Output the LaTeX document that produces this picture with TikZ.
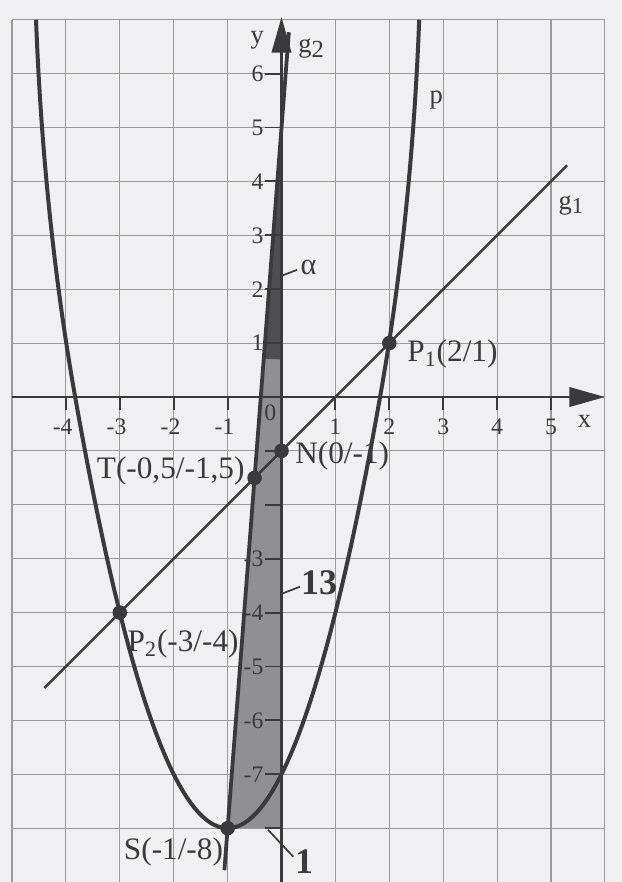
\documentclass[tikz,border=0pt]{standalone}
\usepackage{fontspec}
\setmainfont{Liberation Serif}
\usetikzlibrary{arrows.meta}
\definecolor{paper}{HTML}{F0F0F2}
\definecolor{ink}{HTML}{3A3A3C}
\definecolor{gridc}{HTML}{999A9E}
\definecolor{shadedark}{HTML}{4E4E50}
\definecolor{shadelight}{HTML}{909092}
\begin{document}
\begin{tikzpicture}[x=1cm,y=1cm,
  curve/.style={ink, line width=2.1pt},
  thinline/.style={ink, line width=1.3pt},
  axis/.style={ink, line width=1.4pt, -{Triangle[length=0.66cm,width=0.36cm]}},
  tickmark/.style={ink, line width=1pt},
  leader/.style={ink, line width=0.9pt},
  dot/.style={circle, fill=ink, inner sep=0pt, minimum size=0.27cm},
  ticklab/.style={font=\fontsize{12.5}{12.5}\selectfont, text=ink, inner sep=0pt},
  ptlab/.style={font=\fontsize{16.5}{16.5}\selectfont, text=ink, inner sep=0pt},
  axlab/.style={font=\fontsize{14}{14}\selectfont, text=ink, inner sep=0pt},
  biglab/.style={font=\fontsize{19}{19}\selectfont\bfseries, text=ink, inner sep=0pt},
]
\useasboundingbox[fill=paper] (-5.223,-8.998) rectangle (6.317,7.366);
\draw[gridc, line width=0.6pt] (-5,-9) grid (6,7);

% shaded slope triangle and angle
\fill[shadelight] (-1,-8) -- (0,-8) -- (0,5) -- cycle;
\fill[shadedark] (0,5) -- (0,0.7) arc[start angle=270, end angle=265.6, radius=4.3] -- cycle;

% y ticks and labels
\foreach \y in {-8,...,-1,1,2,...,6} \draw[tickmark] (-0.3,\y) -- (0,\y);
\foreach \y in {1,...,6} \node[ticklab, anchor=east] (ly\y) at (-0.33,\y) {\y};
\foreach \y in {-3,-4,-5,-6,-7} \node[ticklab, anchor=east] (ly\y) at (-0.33,\y) {\y};

% x ticks and labels
\foreach \x in {-4,...,-1,1,2,...,5} \draw[tickmark] (\x,0) -- (\x,-0.24);
\foreach \x in {-4,...,-1} \node[ticklab, anchor=north east] (lx\x) at (\x+0.13,-0.4) {\x};
\foreach \x in {1,...,5} \node[ticklab, anchor=north] (lx\x) at (\x,-0.4) {\x};
\node[ticklab, anchor=north east] (lx0) at (-0.09,-0.13) {0};

% axes
\draw[axis] (-5,0) -- (6,0);
\draw[axis] (0,-9) -- (0,7.05);
\node[axlab] (xl) at (5.62,-0.45) {x};
\node[axlab] (yl) at (-0.45,6.62) {y};

% parabola p
\draw[curve] plot[domain=7:0, samples=40] ({-1-(sqrt(\x+8)-0.0065*\x*\x)},\x)
  -- plot[domain=-3.8284:1.8284, samples=80] (\x,{\x*\x+2*\x-7})
  -- plot[domain=0:7, samples=40] ({-1+(sqrt(\x+8)-0.0065*\x*\x)},\x);
\node[axlab] (pl) at (2.87,5.5) {p};

% g1
\coordinate (g1a) at (-4.4,-5.4);
\coordinate (g1b) at (5.3,4.3);
\draw[thinline] (g1a) -- (g1b);
\node[axlab] (g1l) at (5.37,3.55) {g\raisebox{-0.35ex}{\fontsize{12}{12}\selectfont 1}};

% g2
\coordinate (g2a) at (-1.06,-8.78);
\coordinate (g2b) at (0.136,6.768);
\draw[curve, line width=2pt] (g2a) -- (g2b);
\node[axlab] (g2l) at (0.55,6.46) {g\raisebox{-0.35ex}{\fontsize{13}{13}\selectfont 2}};

% points
\node[dot] (P1) at (2,1) {};
\node[dot] (N) at (0,-1) {};
\node[dot] (T) at (-0.5,-1.5) {};
\node[dot] (P2) at (-3,-4) {};
\node[dot] (S) at (-1,-8) {};

\node[ptlab, anchor=west] (lP1) at (2.33,0.8) {P\textsubscript{1}(2/1)};
\node[ptlab, anchor=west] (lN) at (0.25,-1.1) {N(0/-1)};
\node[ptlab, anchor=east] (lT) at (-0.68,-1.37) {T(-0,5/-1,5)};
\node[ptlab, anchor=west] (lP2) at (-2.86,-4.58) {P\textsubscript{2}(-3/-4)};
\node[ptlab, anchor=east] (lS) at (-1.08,-8.44) {S(-1/-8)};

% alpha, 13, 1 with leaders
\node[font=\fontsize{16}{16}\selectfont, text=ink, inner sep=0pt] (al) at (0.5,2.4) {α};
\coordinate (ala) at (0.03,2.26);
\coordinate (alb) at (0.29,2.36);
\draw[leader] (ala) -- (alb);

\node[biglab] (thirteen) at (0.7,-3.45) {13};
\coordinate (ta) at (0.03,-3.64);
\coordinate (tb) at (0.34,-3.52);
\draw[leader] (ta) -- (tb);

\node[biglab] (one) at (0.42,-8.62) {1};
\coordinate (oa) at (-0.25,-8.03);
\coordinate (ob) at (0.22,-8.53);
\draw[leader] (oa) -- (ob);
\end{tikzpicture}
\end{document}
